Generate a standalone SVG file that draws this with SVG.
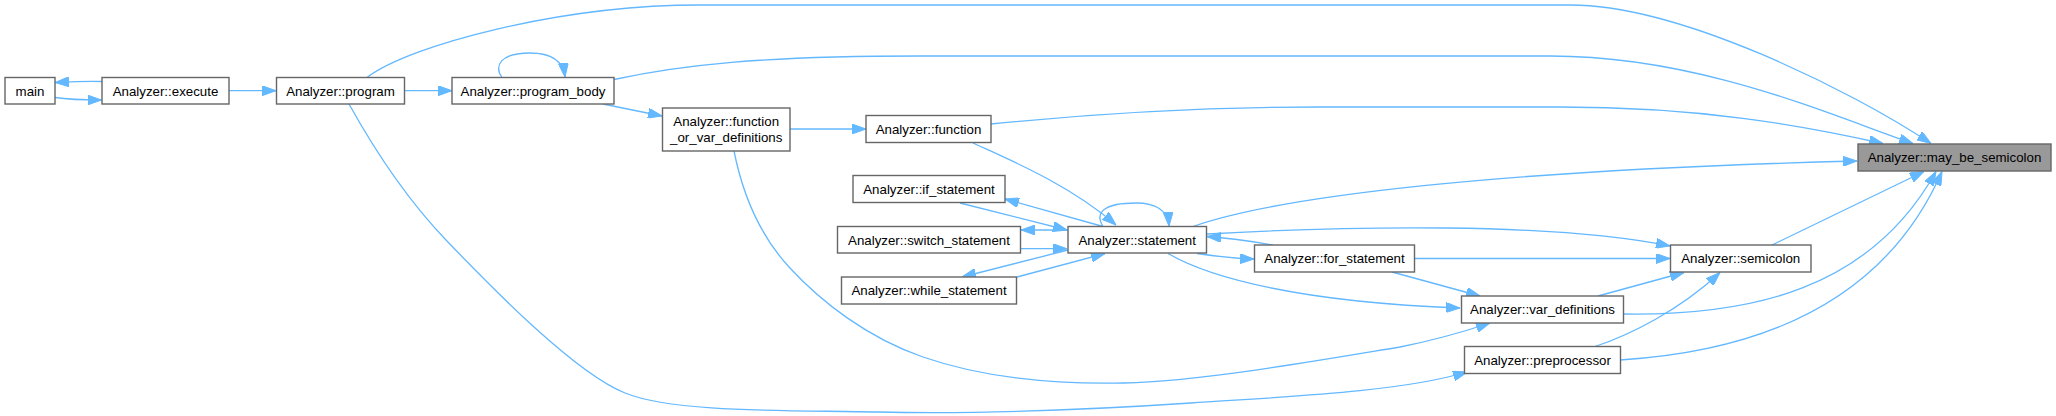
<svg xmlns="http://www.w3.org/2000/svg" width="2056" height="416" viewBox="0 0 2056 416">
<defs>
<marker id="ah" viewBox="0 0 14 10" refX="14" refY="5" markerWidth="14" markerHeight="10" markerUnits="userSpaceOnUse" orient="auto">
<path d="M0,0 L14,5 L0,10 z" fill="#63b8ff" stroke="#63b8ff" stroke-width="1"/>
</marker>
<style>
.n rect{fill:#ffffff;stroke:#666666;stroke-width:1.4}
.n.root rect{fill:#999999}
.n text{font-family:"Liberation Sans",Arial,sans-serif;font-size:13.3px;fill:#000;text-anchor:middle}
.e path{fill:none;stroke:#63b8ff;stroke-width:1.3;marker-end:url(#ah)}
</style>
</defs>
<rect width="2056" height="416" fill="#ffffff"/>
<g id="edges" class="e">
<path d="M102,81.5 C90,81 75,81.5 55,82.5"/>
<path d="M55,97.5 C68,99.5 85,100 101.5,100"/>
<path d="M229,90.7 L276,90.7"/>
<path d="M404.5,90.7 L452,90.7"/>
<path d="M502,77.5 C494,66 500,53 530,53 C550,53 563,60 565,77"/>
<path d="M603,104 L662,116"/>
<path d="M790,129 L866,129"/>
<path d="M367,77.5 C410,45 560,5 700,5 L1570,5 C1680,5 1850,90 1931,143.5"/>
<path d="M614,79.5 C680,65 760,56 920,56 L1550,56 C1700,56 1830,115 1913,143.5"/>
<path d="M991,124 C1080,115 1200,107 1320,107 L1560,107 C1700,107 1800,125 1883,143.5"/>
<path d="M1193,226.5 C1280,196 1500,170 1857,161"/>
<path d="M1772,245 L1924,171.5"/>
<path d="M1623,314 C1750,316 1870,290 1936,171.5"/>
<path d="M1620,360 C1780,350 1890,290 1942,171.5"/>
<path d="M1207,234 C1350,226 1550,222 1670,246"/>
<path d="M1273,245 C1250,241 1230,238 1207,236.5"/>
<path d="M1197,253.5 C1215,256 1235,258.5 1254,259"/>
<path d="M1414.5,258.5 L1670,258.5"/>
<path d="M1392,272 L1480,296"/>
<path d="M1168,253.5 C1210,278 1300,302 1460,308"/>
<path d="M1598,296 L1684,272.5"/>
<path d="M1595,346.5 C1630,335 1680,310 1720,272.5"/>
<path d="M734,151 C742,191 757.5,232.7 789,267 C820.5,301.3 867,337.7 923,357 C978.8,376.3 1044.5,384.7 1124,383 C1203.5,381.3 1339,357 1400,347 C1430,341 1460,333 1490,323"/>
<path d="M349,104 C369,140 400,192 446,240 C492,288 575,373 625,393 C675,413 785,410 879,412 C973,414 1093,409.5 1191,403 C1289,396.5 1400,392 1467,372"/>
<path d="M973,143 C1010,160 1070,185 1116,225"/>
<path d="M1103,226.5 C1094,212 1105,203 1136,203 C1155,203 1168,210 1169,226"/>
<path d="M1103,226.5 L1005,199"/>
<path d="M960,203 L1067,230"/>
<path d="M1068,230 L1021,230"/>
<path d="M1021,248.7 L1067,248.7"/>
<path d="M1068,250 L962,277"/>
<path d="M1017,277 L1105,253.5"/>
</g>
<g id="main" class="n"><rect x="5" y="77.5" width="50" height="26.5"/><text x="30" y="95.5">main</text></g>
<g id="execute" class="n"><rect x="102" y="77.5" width="127" height="26.5"/><text x="165.5" y="95.5">Analyzer::execute</text></g>
<g id="program" class="n"><rect x="276.5" y="77.5" width="128" height="26.5"/><text x="340.5" y="95.5">Analyzer::program</text></g>
<g id="program_body" class="n"><rect x="452" y="77.5" width="162" height="26.5"/><text x="533" y="95.5">Analyzer::program_body</text></g>
<g id="function_or_var_definitions" class="n"><rect x="662.5" y="108" width="127.5" height="43"/><text x="726.2" y="126.3">Analyzer::function</text><text x="726.2" y="141.8">_or_var_definitions</text></g>
<g id="function" class="n"><rect x="866" y="115.5" width="125" height="27"/><text x="928.5" y="133.8">Analyzer::function</text></g>
<g id="if_statement" class="n"><rect x="853" y="175.5" width="152" height="27"/><text x="929" y="193.8">Analyzer::if_statement</text></g>
<g id="switch_statement" class="n"><rect x="837.5" y="226.5" width="183" height="26.5"/><text x="929" y="244.5">Analyzer::switch_statement</text></g>
<g id="while_statement" class="n"><rect x="841.5" y="277" width="175" height="27"/><text x="929" y="295.3">Analyzer::while_statement</text></g>
<g id="statement" class="n"><rect x="1068" y="226.5" width="138.5" height="26.5"/><text x="1137.2" y="244.5">Analyzer::statement</text></g>
<g id="for_statement" class="n"><rect x="1254.5" y="245" width="160" height="27"/><text x="1334.5" y="263.3">Analyzer::for_statement</text></g>
<g id="semicolon" class="n"><rect x="1670.5" y="245" width="140.5" height="27"/><text x="1740.7" y="263.3">Analyzer::semicolon</text></g>
<g id="var_definitions" class="n"><rect x="1461.5" y="296" width="162" height="27"/><text x="1542.5" y="314.3">Analyzer::var_definitions</text></g>
<g id="preprocessor" class="n"><rect x="1464.5" y="346.5" width="156" height="27"/><text x="1542.5" y="364.8">Analyzer::preprocessor</text></g>
<g id="may_be_semicolon" class="n root"><rect x="1858" y="144" width="193" height="27"/><text x="1954.5" y="162.3">Analyzer::may_be_semicolon</text></g>
</svg>
